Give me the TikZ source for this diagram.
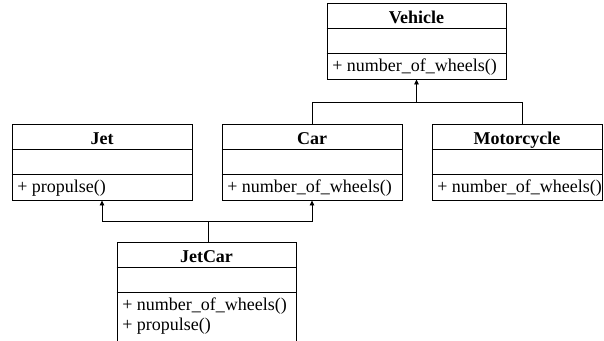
\documentclass[tikz,border=0pt]{standalone}
\usepackage{fontspec}
\setmainfont{Liberation Serif}
\usetikzlibrary{calc,arrows.meta}
\begin{document}
\begin{tikzpicture}[x=1pt,y=-1pt,
  umlbox/.style={draw,line width=0.9pt,rectangle,inner sep=0pt,minimum height=76pt},
  hdr/.style={anchor=base,inner sep=0pt,font=\fontsize{18pt}{20pt}\selectfont\bfseries},
  mth/.style={anchor=base west,inner sep=0pt,font=\fontsize{18pt}{20pt}\selectfont},
  sep/.style={line width=0.9pt},
  conn/.style={line width=0.8pt},
  arr/.style={conn,-{Triangle[length=5pt,width=4.5pt]}}]
\useasboundingbox (0,0) rectangle (604,340);
% boxes
\node[umlbox,minimum width=179pt] (veh) at (416.5,41) {};
\node[umlbox,minimum width=180pt] (jet) at (102,162) {};
\node[umlbox,minimum width=180pt] (car) at (312,162) {};
\node[umlbox,minimum width=170pt] (moto) at (517,162) {};
\node[umlbox,minimum width=179pt,minimum height=99pt] (jc) at (206.5,291.5) {};
% separators
\foreach \b in {veh,jet,car,moto,jc}{
  \draw[sep] ($(\b.north west)+(0,25.5)$) -- ($(\b.north east)+(0,25.5)$);
  \draw[sep] ($(\b.north west)+(0,50.5)$) -- ($(\b.north east)+(0,50.5)$);
}
% headers
\node[hdr] (vehT) at ($(veh.north)+(0,20.5)$) {Vehicle};
\node[hdr] (jetT) at ($(jet.north)+(0,20.5)$) {Jet};
\node[hdr] (carT) at ($(car.north)+(0,20.5)$) {Car};
\node[hdr] (motoT) at ($(moto.north)+(0,20.5)$) {Motorcycle};
\node[hdr] (jcT) at ($(jc.north)+(0,20.5)$) {JetCar};
% methods
\node[mth] (vehM) at ($(veh.north west)+(5.5,69)$) {+ number\_of\_wheels()};
\node[mth] (jetM) at ($(jet.north west)+(5.5,69)$) {+ propulse()};
\node[mth] (carM) at ($(car.north west)+(5.5,69)$) {+ number\_of\_wheels()};
\node[mth] (motoM) at ($(moto.north west)+(5.5,69)$) {+ number\_of\_wheels()};
\node[mth] (jcM1) at ($(jc.north west)+(5.5,69)$) {+ number\_of\_wheels()};
\node[mth] (jcM2) at ($(jc.north west)+(5.5,89)$) {+ propulse()};
% connectors
\coordinate (vj) at (416.5,102.5);
\coordinate (mtop) at ($(moto.north)+(5,0)$);
\draw[conn] (car.north) |- (vj);
\draw[conn] (vj) -| (mtop);
\draw[arr] (vj) -- (veh.south);
\coordinate (jj) at (208,221.5);
\draw[conn] ($(jc.north)+(1.5,0)$) -- (jj);
\draw[arr] (jj) -| (jet.south);
\draw[arr] (jj) -| (car.south);
\end{tikzpicture}
\end{document}
